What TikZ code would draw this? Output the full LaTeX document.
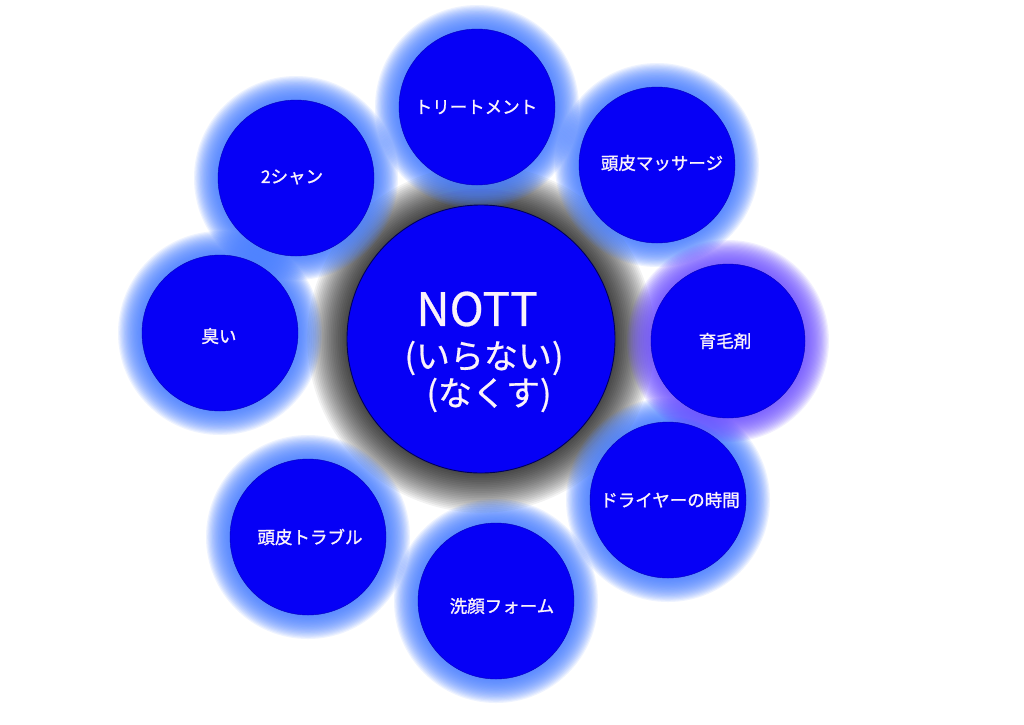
\documentclass[tikz,border=0pt]{standalone}
\usepackage{fontspec}
\setmainfont{Noto Sans CJK JP}
\newfontfamily\jpbold[FakeBold=1.2]{Noto Sans CJK JP}
\newfontfamily\jpmed[FakeBold=0.6]{Noto Sans CJK JP}
\definecolor{bubblefill}{RGB}{6,0,246}
\definecolor{glowblue}{RGB}{70,125,255}
\definecolor{glowviolet}{RGB}{110,80,255}
\definecolor{labelc}{RGB}{250,242,250}
\tikzset{
  bubble/.style={circle, fill=bubblefill, draw=bubblefill!75!black, line width=0.4pt, minimum size=156pt, inner sep=0pt},
  hub/.style={circle, fill=bubblefill, draw=blue!35!black, line width=0.9pt, minimum size=268pt, inner sep=0pt},
  lab/.style={text=labelc, font=\jpbold\fontsize{17.5}{20}\selectfont, inner sep=0pt},
  hubbig/.style={text=labelc, font=\jpmed\fontsize{46}{50}\selectfont, inner sep=0pt},
  hubsmall/.style={text=labelc, font=\jpmed\fontsize{34}{38}\selectfont, inner sep=0pt},
}
\begin{document}
\begin{tikzpicture}[x=1pt,y=-1pt]
\fill[white] (0,0) rectangle (1024,724);
\useasboundingbox (0,0) rectangle (1024,724);
% shadow of the hub
\foreach \k in {1,...,22}
  \fill[black,opacity=0.05] (481,339) circle ({134pt+1.8pt*\k});
% blue glows
\foreach \x/\y in {477/107, 657/165, 296/178, 220/333, 668/500, 308/537, 496/601}
  \foreach \k in {1,...,20}
    \fill[glowblue,opacity=0.09] (\x,\y) circle ({78pt+1.2pt*\k});
% violet glow
\foreach \k in {1,...,20}
  \fill[glowviolet,opacity=0.09] (728,341) circle ({77pt+1.2pt*\k});
% circles
\node[hub] (hub) at (481,339) {};
\node[bubble] (n1) at (477,107) {};
\node[bubble] (n2) at (657,165) {};
\node[bubble] (n3) at (296,178) {};
\node[bubble] (n4) at (220,333) {};
\node[bubble,minimum size=154pt] (n5) at (728,341) {};
\node[bubble] (n6) at (668,500) {};
\node[bubble] (n7) at (308,537) {};
\node[bubble] (n8) at (496,601) {};
% labels
\node[hubbig] (t0a) at (477,309) {NOTT};
\node[hubsmall] (t0b) at (484,358) {(いらない)};
\node[hubsmall] (t0c) at (489,395) {(なくす)};
\node[lab] (t1) at (476,107) {トリートメント};
\node[lab] (t2) at (662,163) {頭皮マッサージ};
\node[lab] (t3) at (292,177) {2シャン};
\node[lab] (t4) at (219,336) {臭い};
\node[lab] (t5) at (725,341) {育毛剤};
\node[lab] (t6) at (670,500) {ドライヤーの時間};
\node[lab] (t7) at (310,537) {頭皮トラブル};
\node[lab] (t8) at (502,606) {洗顔フォーム};
\end{tikzpicture}
\end{document}
